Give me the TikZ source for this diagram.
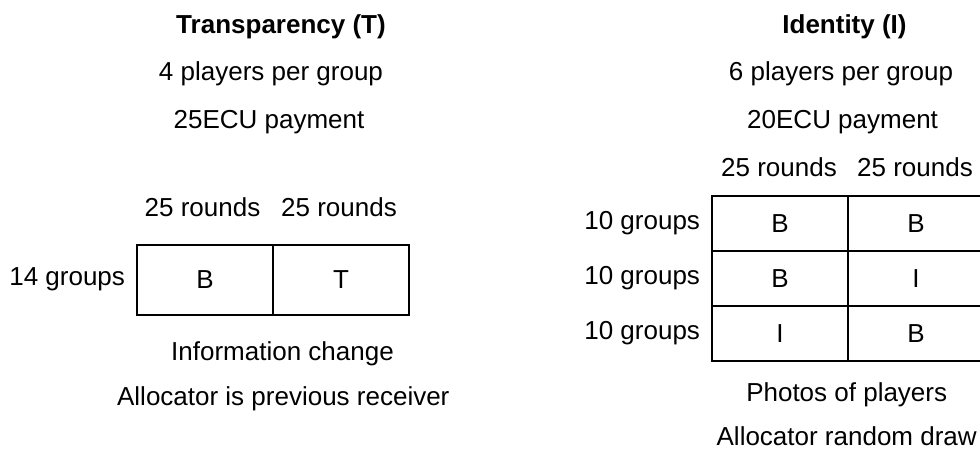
\documentclass[tikz,border=0pt]{standalone}
\usepackage{fontspec}
\setmainfont{Liberation Sans}
\begin{document}
\begin{tikzpicture}[x=1pt,y=-1pt,
  every node/.style={font=\fontsize{26}{31}\selectfont, inner sep=0pt, outer sep=0pt},
  lbl/.style={anchor=base},
  rowlbl/.style={anchor=base east},
  cellT/.style={draw, line width=2pt, minimum width=136pt, minimum height=70pt},
  cellI/.style={draw, line width=2pt, minimum width=136pt, minimum height=55pt}]
\useasboundingbox (0,0) rectangle (980,455);
\clip (0,0) rectangle (980,455);

% Transparency treatment
\node[lbl, font=\fontsize{26}{31}\selectfont\bfseries] (ttitle) at (281,33) {Transparency (T)};
\node[lbl] (tplayers) at (271,80.5) {4 players per group};
\node[lbl] (tpay) at (269,128) {25ECU payment};
\node[lbl] (tr1) at (202.5,216.5) {25 rounds};
\node[lbl] (tr2) at (339,216.5) {25 rounds};
\node[cellT] (tb) at (205,280) {B};
\node[cellT] (tt) at (341,280) {T};
\node[rowlbl] (tg) at (125,285.5) {14 groups};
\node[lbl] (tinfo) at (282.5,360.5) {Information change};
\node[lbl] (talloc) at (283.3,405.5) {Allocator is previous receiver};

% Identity treatment
\node[lbl, font=\fontsize{26}{31}\selectfont\bfseries] (ititle) at (844.5,33) {Identity (I)};
\node[lbl] (iplayers) at (841,80.5) {6 players per group};
\node[lbl] (ipay) at (842.6,128) {20ECU payment};
\node[lbl] (ir1) at (779,176.5) {25 rounds};
\node[lbl] (ir2) at (915,176.5) {25 rounds};
\node[cellI] (i11) at (780,223.5) {B};
\node[cellI] (i12) at (916,223.5) {B};
\node[cellI] (i21) at (780,278.5) {B};
\node[cellI] (i22) at (916,278.5) {I};
\node[cellI] (i31) at (780,333.5) {I};
\node[cellI] (i32) at (916,333.5) {B};
\node[rowlbl] (ig1) at (700,229) {10 groups};
\node[rowlbl] (ig2) at (700,284) {10 groups};
\node[rowlbl] (ig3) at (700,339) {10 groups};
\node[lbl] (iphotos) at (846.7,401.5) {Photos of players};
\node[lbl] (ialloc) at (846.7,445) {Allocator random draw};
\end{tikzpicture}
\end{document}
